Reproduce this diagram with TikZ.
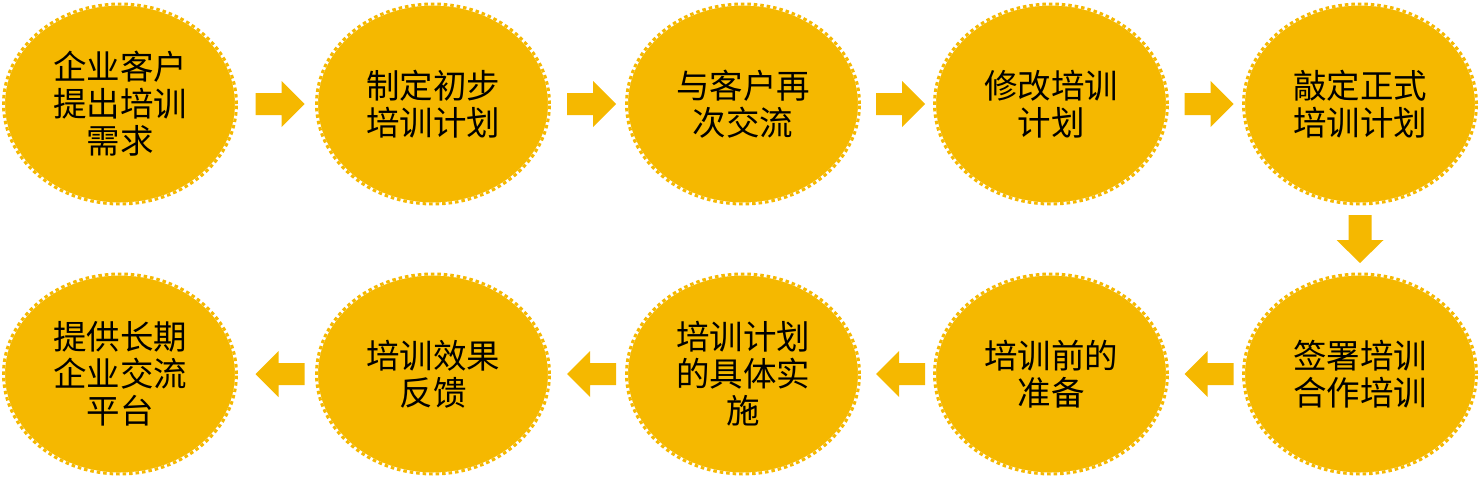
\documentclass[tikz,border=0pt]{standalone}
\usepackage{fontspec}
\newfontfamily\cjk{Noto Sans CJK SC}
\usetikzlibrary{shapes.geometric,calc}
\definecolor{gold}{HTML}{F5B800}
\tikzset{
  bubble/.style={ellipse, fill=gold, draw=white, line width=3pt,
    minimum width=233pt, minimum height=200pt, inner sep=0pt, align=center,
    font=\cjk\fontsize{33.5}{37}\selectfont, text=black,
    postaction={draw=gold, line width=3pt, dash pattern=on 3.5pt off 3pt}},
  rarr/.pic={\fill[gold] (-24.5,-11) -- (1.5,-11) -- (1.5,-23) -- (24.5,0) -- (1.5,23) -- (1.5,11) -- (-24.5,11) -- cycle;},
  larr/.pic={\fill[gold] (24.5,-11) -- (-1.5,-11) -- (-1.5,-23) -- (-24.5,0) -- (-1.5,23) -- (-1.5,11) -- (24.5,11) -- cycle;},
  darr/.pic={\fill[gold] (-11.5,-24) -- (-11.5,1) -- (-23.5,1) -- (0,24) -- (23.5,1) -- (11.5,1) -- (11.5,-24) -- cycle;}
}
\begin{document}
\begin{tikzpicture}[x=1pt,y=-1pt]
\useasboundingbox (0,0) rectangle (1481,477);
\node[bubble] (n1) at (120,104) {企业客户\\提出培训\\需求};
\node[bubble] (n2) at (433,104) {制定初步\\培训计划};
\node[bubble] (n3) at (743,104) {与客户再\\次交流};
\node[bubble] (n4) at (1051,104) {修改培训\\计划};
\node[bubble] (n5) at (1360,104) {敲定正式\\培训计划};
\node[bubble] (n6) at (1360,374) {签署培训\\合作培训};
\node[bubble] (n7) at (1051,374) {培训前的\\准备};
\node[bubble] (n8) at (743,374) {培训计划\\的具体实\\施};
\node[bubble] (n9) at (433,374) {培训效果\\反馈};
\node[bubble] (n10) at (120,374) {提供长期\\企业交流\\平台};
\pic at ($($(n1.east)!0.5!(n2.west)$)+(3.5,0)$) {rarr};
\pic at ($($(n2.east)!0.5!(n3.west)$)+(3.5,0)$) {rarr};
\pic at ($($(n3.east)!0.5!(n4.west)$)+(3.5,0)$) {rarr};
\pic at ($($(n4.east)!0.5!(n5.west)$)+(3.5,0)$) {rarr};
\pic at ($(n5.south)!0.5!(n6.north)$) {darr};
\pic at ($($(n6.west)!0.5!(n7.east)$)+(3.5,0)$) {larr};
\pic at ($($(n7.west)!0.5!(n8.east)$)+(3.5,0)$) {larr};
\pic at ($($(n8.west)!0.5!(n9.east)$)+(3.5,0)$) {larr};
\pic at ($($(n9.west)!0.5!(n10.east)$)+(3.5,0)$) {larr};
\end{tikzpicture}
\end{document}
